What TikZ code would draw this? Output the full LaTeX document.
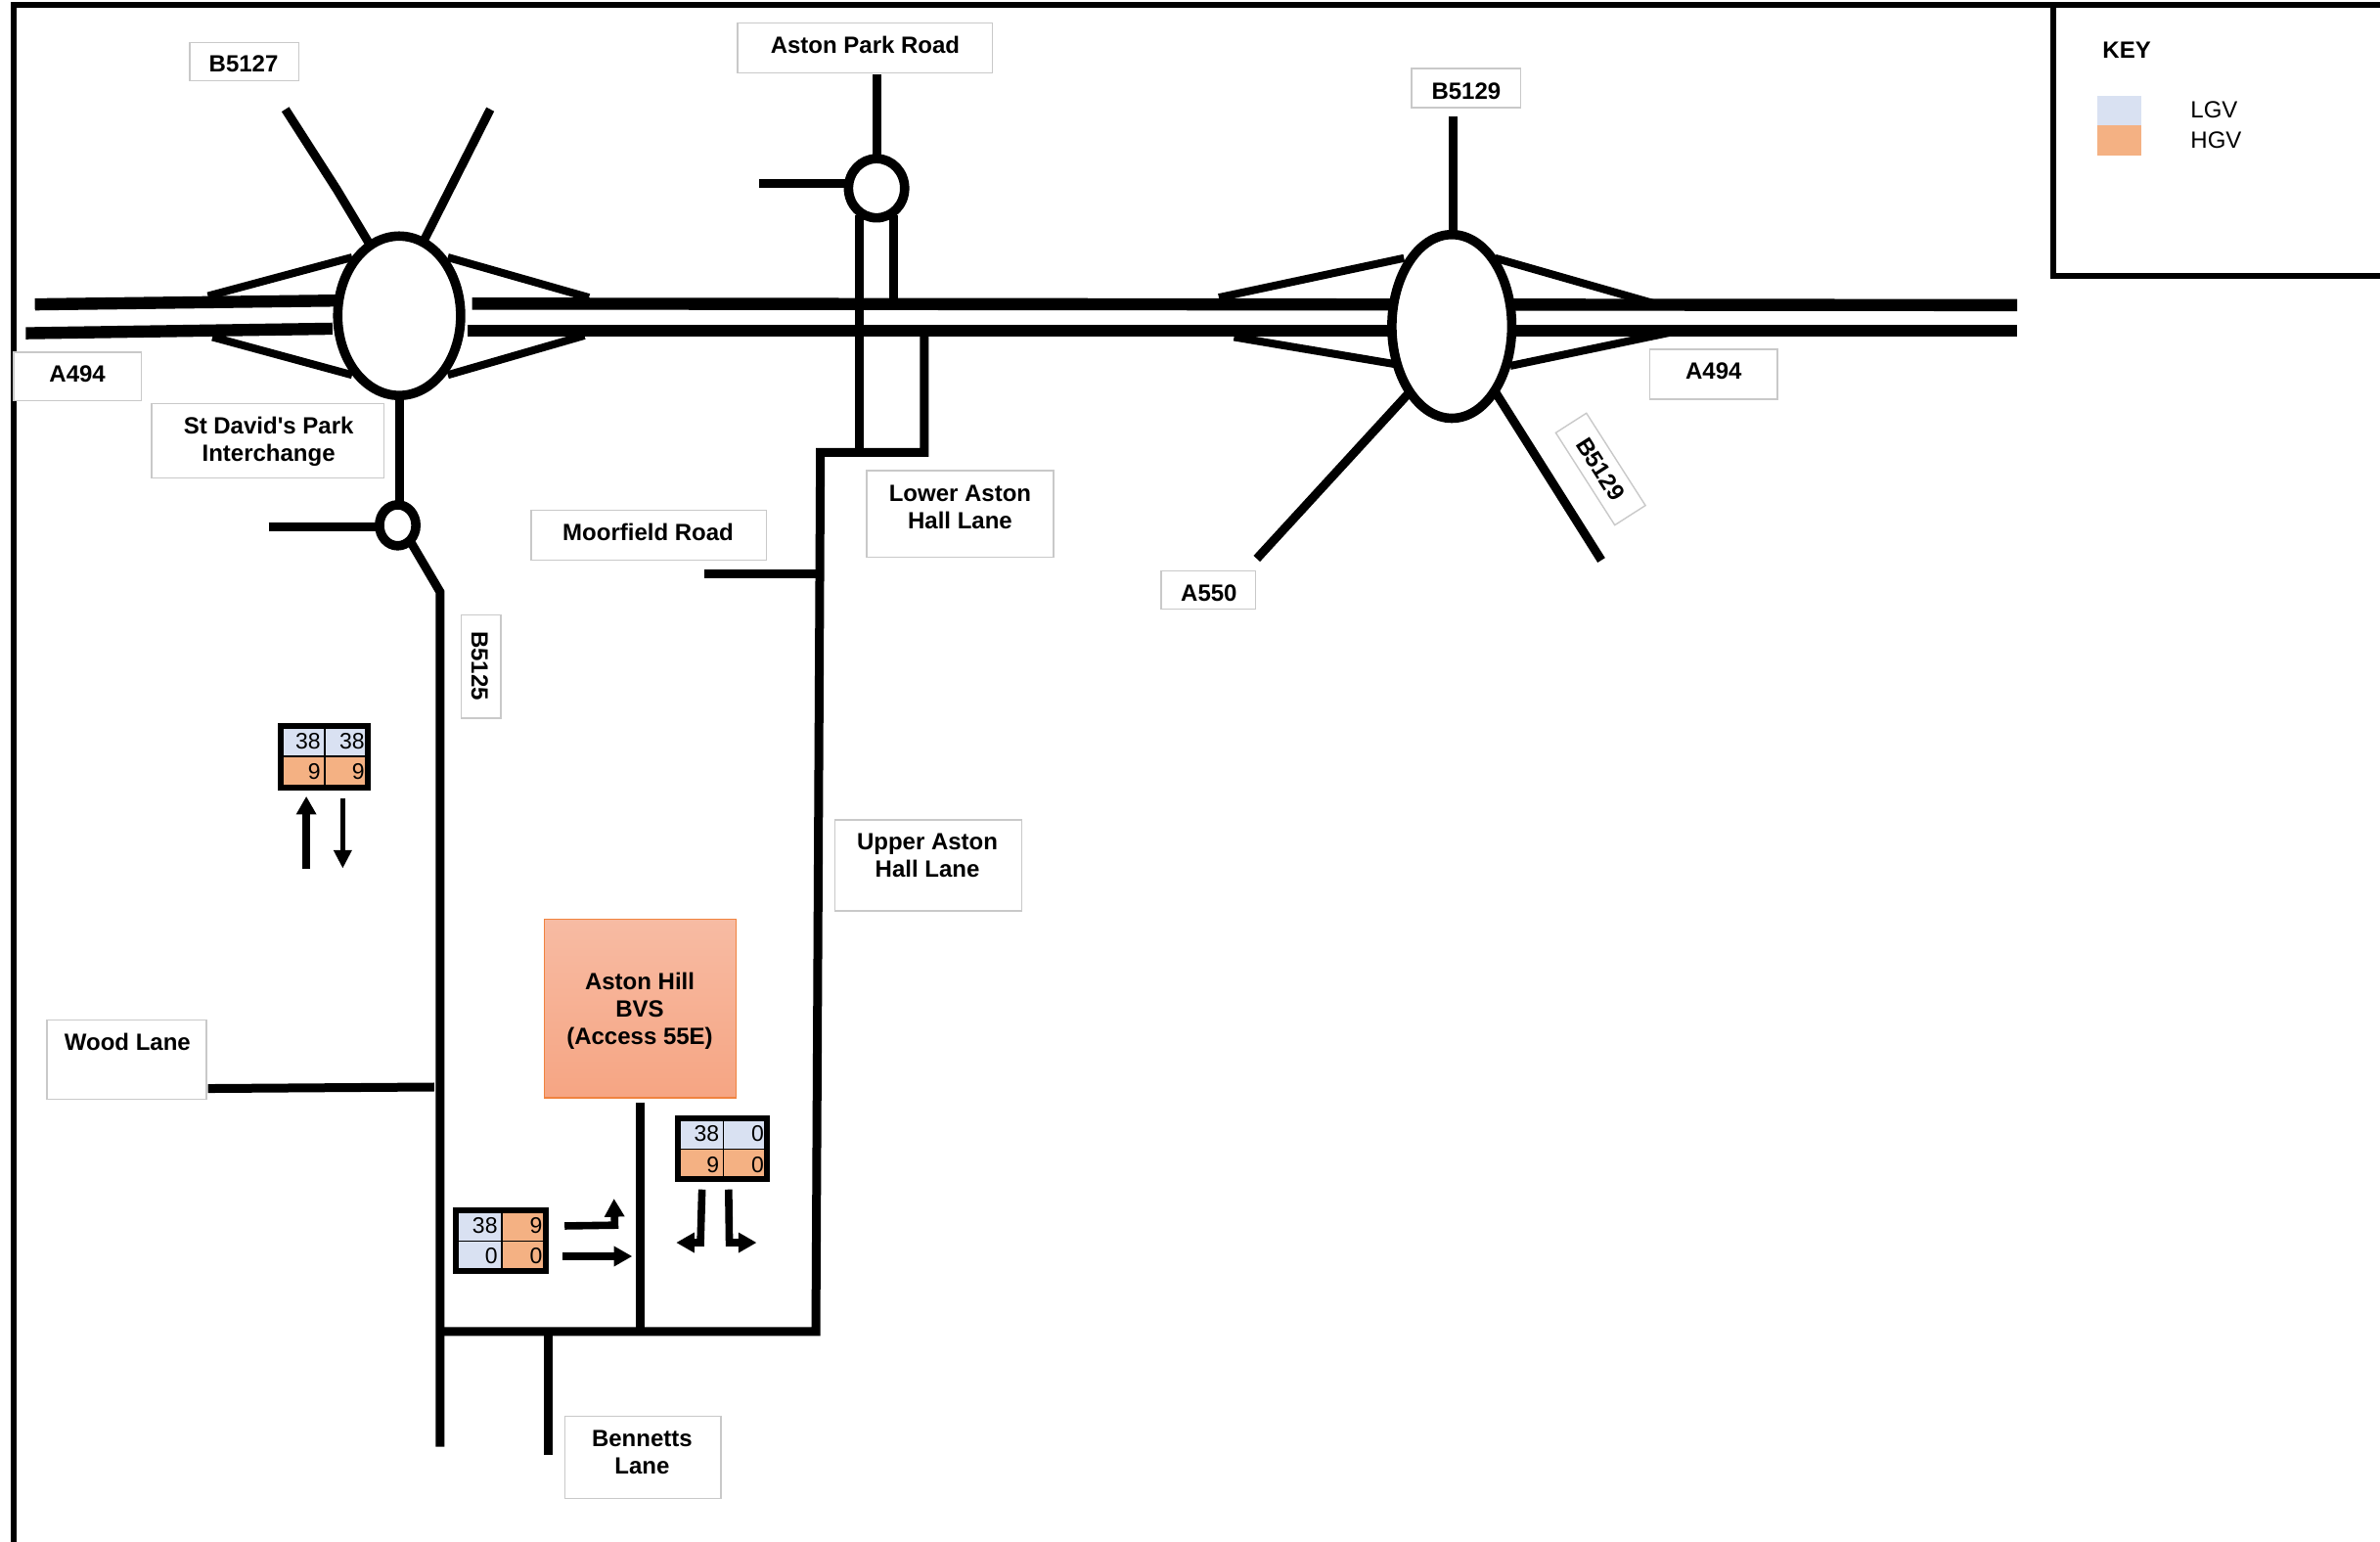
\documentclass[tikz,border=0pt]{standalone}
\usepackage{fontspec}
\setmainfont[Ligatures=TeXOff]{Liberation Sans}
\usetikzlibrary{arrows.meta}
\definecolor{lgv}{HTML}{D9E1F2}
\definecolor{hgv}{HTML}{F4B183}
\definecolor{labgrey}{HTML}{C9C9C9}
\definecolor{sitetop}{HTML}{F7BBA3}
\definecolor{sitebot}{HTML}{F6A583}
\definecolor{siteedge}{HTML}{F0833F}
\tikzset{
  mainroad/.style={line width=6.2pt},
  road/.style={line width=4.5pt},
  slip/.style={line width=4pt},
  rbt/.style={line width=4.8pt,fill=white},
  labbox/.style={draw=labgrey,line width=0.7pt,fill=white},
  labtext/.style={font=\bfseries\fontsize{12}{14}\selectfont,align=center,inner sep=0pt},
  numtext/.style={font=\fontsize{11.5}{13}\selectfont,inner sep=0pt,anchor=east},
  keytext/.style={font=\fontsize{12}{14}\selectfont,inner sep=0pt,anchor=west},
  gridframe/.style={line width=3pt},
  gridline/.style={line width=0.8pt},
  bigarrow/.style={line width=3.8pt,-{Triangle[length=9.3pt,width=9.8pt]},miter limit=10},
  thinarrow/.style={line width=2.8pt,-{Triangle[length=9.3pt,width=8.8pt]}},
  framing/.style={line width=3pt}
}
\newcommand{\lab}[8]{\draw[labbox] (#2,#3) rectangle (#4,#5);\node[labtext] (#1) at (#6,#7) {#8};}
\newcommand{\gcell}[7]{\fill[#6] (#2,#3) rectangle (#4,#5);\node[numtext] (#1) at ({#4-2.5},{(#3+#5)/2}) {#7};}
\begin{document}
\begin{tikzpicture}[x=0.77583pt,y=-0.77583pt]
\useasboundingbox (0,0) rectangle (1568,1015.6);
\fill[white] (0,0) rectangle (1568,1015.6);
% outer frame and key frame
\draw[framing] (9,1015.6) -- (9,3) -- (1568,3);
\draw[framing] (1352.5,3) -- (1352.5,181.5) -- (1568,181.5);
% interchange left: approach roads
\draw[mainroad] (23,200.5) -- (221,198);
\draw[mainroad] (17,219.5) -- (219,216.5);
\draw[mainroad] (311,200) -- (1329,201);
\draw[mainroad] (308,218) -- (1329,218);
\draw[slip] (137,195) -- (232,169.5);
\draw[slip] (140,222) -- (232,247);
\draw[slip] (295,169.5) -- (388,196);
\draw[slip] (295,247) -- (385,221);
\draw[road] (188,72) -- (222,125) -- (243,160);
\draw[road] (323,72) -- (279,159);
\draw[road] (263,255) -- (263,335);
% small roundabout
\draw[road] (177,347) -- (250,347);
\draw[road] (270,356) -- (290,390) -- (290,953);
% Aston Park Road junction
\draw[road] (578,49) -- (578,106);
\draw[road] (500,121) -- (560,121);
\draw[road] (566,142) -- (566,298);
\draw[road] (588.5,142) -- (588.5,198);
\draw[road,line join=miter] (609,218) -- (609,298) -- (540.5,298) -- (537.5,877) -- (290,877);
\draw[road] (464,378) -- (540,378);
\draw[road] (137,717) -- (286,716);
\draw[road] (361,877) -- (361,958);
\draw[road] (422,726) -- (422,877);
% interchange right: approach roads
\draw[slip] (803,196) -- (925,170);
\draw[slip] (813,222) -- (920,240);
\draw[slip] (985,170) -- (1090,200);
\draw[slip] (995,241) -- (1105,218);
\draw[road] (957.5,77) -- (957.5,158);
\draw[road] (929,258) -- (828,368);
\draw[road] (985,258) -- (1055,369);
% roundabouts
\coordinate (rbL) at (263,208);
\coordinate (rbS) at (262,346);
\coordinate (rbA) at (577.5,124);
\coordinate (rbR) at (956.5,215);
\draw[rbt] (rbL) ellipse [x radius=40.5,y radius=52.5];
\draw[rbt] (rbS) ellipse [x radius=12,y radius=13.5];
\draw[rbt] (rbA) ellipse [x radius=18.5,y radius=19.5];
\draw[rbt] (rbR) ellipse [x radius=39.5,y radius=60.5];
% labels
\lab{b5127}{125}{28}{197}{53}{160.5}{42}{B5127}
\lab{aston}{486}{15}{654}{48}{570}{29.5}{Aston Park Road}
\lab{b5129a}{930}{45}{1002}{71}{966}{60}{B5129}
\lab{a494l}{9}{232}{93}{264}{51}{246.5}{A494}
\lab{david}{100}{266}{253}{315}{177}{291}{St David's Park\\Interchange}
\lab{a494r}{1087}{230}{1171}{263}{1129}{244.5}{A494}
\lab{lower}{571}{310}{694}{367}{632.5}{334}{Lower Aston\\Hall Lane}
\lab{moor}{350}{336}{505}{369}{427}{350.5}{Moorfield Road}
\lab{a550}{765}{376}{827}{401}{796.5}{390.5}{A550}
\draw[labbox] (304,405) rectangle (330,473);
\node[labtext,rotate=-90] (b5125) at (316,438.5) {B5125};
\lab{upper}{550}{540}{673}{600}{611}{563.5}{Upper Aston\\Hall Lane}
\lab{wood}{31}{672}{136}{724}{84}{686}{Wood Lane}
\lab{bennetts}{372}{933}{475}{987}{423}{956.5}{Bennetts\\Lane}
\node[labbox,rotate=-57.4,minimum width=56pt,minimum height=18.6pt,inner sep=0pt,
      font=\bfseries\fontsize{12}{14}\selectfont] (b5129b) at (1054.5,309) {B5129};
% site
\shade[top color=sitetop,bottom color=sitebot] (358.5,605.5) rectangle (485,723);
\draw[draw=siteedge,line width=0.7pt] (358.5,605.5) rectangle (485,723);
\node[labtext] (bvs) at (421.5,666) {Aston Hill\\BVS\\(Access 55E)};
% grid 1
\gcell{ga}{185}{478}{214}{498}{lgv}{38}
\gcell{gb}{214}{478}{243}{498}{lgv}{38}
\gcell{gc}{185}{498}{214}{519}{hgv}{9}
\gcell{gd}{214}{498}{243}{519}{hgv}{9}
\draw[gridline] (214,478) -- (214,519) (185,498) -- (243,498);
\draw[gridframe] (185,478) rectangle (242.5,518.5);
% grid 2
\gcell{ha}{446.5}{736.5}{476.5}{757}{lgv}{38}
\gcell{hb}{476.5}{736.5}{506}{757}{lgv}{0}
\gcell{hc}{446.5}{757}{476.5}{777}{hgv}{9}
\gcell{hd}{476.5}{757}{506}{777}{hgv}{0}
\draw[gridline] (476.5,736.5) -- (476.5,777) (446.5,757) -- (506,757);
\draw[gridframe] (446.5,736.5) rectangle (505.5,776.5);
% grid 3
\gcell{ia}{300.5}{797.5}{330.5}{817.5}{lgv}{38}
\gcell{ib}{330.5}{797.5}{360}{817.5}{hgv}{9}
\gcell{ic}{300.5}{817.5}{330.5}{837}{lgv}{0}
\gcell{id}{330.5}{817.5}{360}{837}{hgv}{0}
\draw[gridline] (330.5,797.5) -- (330.5,837) (300.5,817.5) -- (360,817.5);
\draw[gridframe] (300.5,797.5) rectangle (359.5,837);
% arrows
\draw[bigarrow] (201.8,572) -- (201.8,524.5);
\draw[thinarrow] (225.8,526) -- (225.8,572);
\draw[bigarrow] (372,807.5) -- (405,807) -- (404.5,789.5);
\draw[bigarrow] (370.5,827.5) -- (416.5,827.5);
\draw[bigarrow] (462.5,783.5) -- (461.5,818.5) -- (445.5,818.5);
\draw[bigarrow] (480,783.5) -- (480.5,818.5) -- (498.5,818.5);
% key
\node[labtext,anchor=west] (key) at (1385,33) {KEY};
\fill[lgv] (1381.5,63) rectangle (1411,82.5);
\fill[hgv] (1381.5,82.5) rectangle (1411,102.5);
\node[keytext] (lgvk) at (1443,72.5) {LGV};
\node[keytext] (hgvk) at (1443,92) {HGV};
\end{tikzpicture}
\end{document}
